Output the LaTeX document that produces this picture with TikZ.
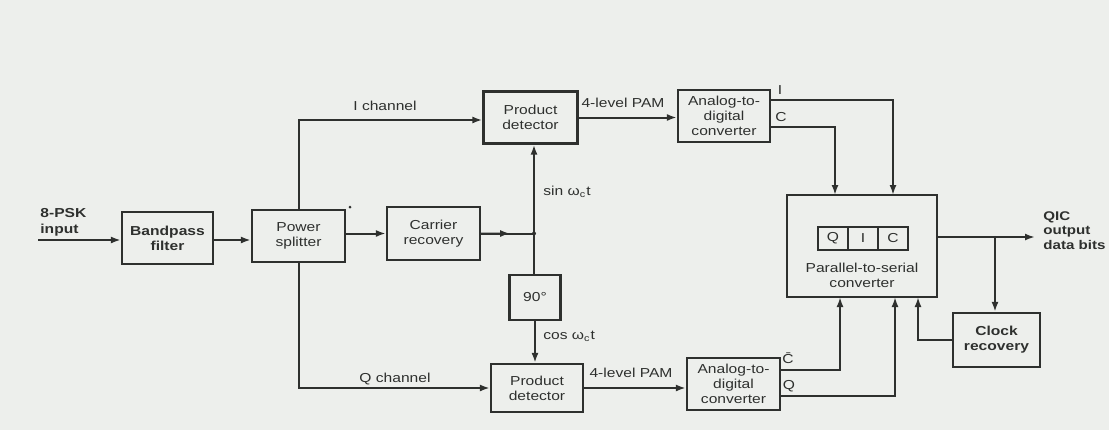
\documentclass[tikz,border=0pt]{standalone}
\usepackage{fontspec}
\newfontfamily\lbl{Liberation Sans}[FakeStretch=1.2]
\usetikzlibrary{arrows.meta,calc}
\definecolor{paper}{HTML}{EDEFEC}
\definecolor{ink}{HTML}{2E302E}
\tikzset{
  blk/.style={draw=ink,line width=1.1pt,fill=none,inner sep=1pt,align=center,
    font=\lbl\fontsize{6.5}{7.6}\selectfont,text=ink},
  wire/.style={draw=ink,line width=1pt},
  arr/.style={wire,-{Latex[length=5pt,width=3.5pt]}},
  txt/.style={font=\lbl\fontsize{6.5}{7.6}\selectfont,text=ink,inner sep=0pt,align=center},
  cell/.style={draw=ink,line width=1pt,minimum width=15pt,minimum height=11.5pt,inner sep=0pt,
    font=\lbl\fontsize{6.5}{7.6}\selectfont,text=ink}
}
\begin{document}
\begin{tikzpicture}[x=0.5pt,y=-0.5pt]
\fill[paper] (0,0) rectangle (1109,430);
\useasboundingbox (0,0) rectangle (1109,430);

% blocks
\node[blk,minimum width=45.5pt,minimum height=26pt,font=\lbl\bfseries\fontsize{6.5}{7.6}\selectfont] (bpf) at (167.5,238) {Bandpass\\filter};
\node[blk,minimum width=46.5pt,minimum height=26pt] (ps) at (298.5,236) {Power\\splitter};
\node[blk,minimum width=46.5pt,minimum height=26.5pt] (cr) at (433.5,233.5) {Carrier\\recovery};
\node[blk,minimum width=47pt,minimum height=26pt] (pd1) at (530.5,117.5) {Product\\detector};
\node[blk,minimum width=25.5pt,minimum height=22.5pt] (ph) at (535,297.5) {90°};
\node[blk,minimum width=46pt,minimum height=24pt] (pd2) at (537,388) {Product\\detector};
\node[blk,minimum width=46pt,minimum height=26pt] (adc1) at (724,116) {Analog-to-\\digital\\converter};
\node[blk,minimum width=46.5pt,minimum height=26pt] (adc2) at (733.5,384) {Analog-to-\\digital\\converter};
\node[blk,minimum width=75pt,minimum height=51pt] (psc) at (862,246) {};
\node[txt] (psct) at (862,275) {Parallel-to-serial\\converter};
\node[cell] (cq) at (833,238.5) {Q};
\node[cell] (ci) at (863,238.5) {I};
\node[cell] (cc) at (893,238.5) {C};
\node[blk,minimum width=43.5pt,minimum height=27pt,font=\lbl\bfseries\fontsize{6.5}{7.6}\selectfont] (clk) at (996.5,340) {Clock\\recovery};

% points on the wires
\coordinate (in) at (38,240);
\coordinate (j) at (534,233.5);
\coordinate (out) at (1035,237);
\coordinate (br) at (995,237);
\coordinate (iup) at (298.5,120);
\coordinate (qdn) at (298.5,388);

% input chain
\node[txt,anchor=north west,align=left,font=\lbl\bfseries\fontsize{6.5}{7.8}\selectfont] (inl) at (40,208) {8-PSK\\input};
\draw[arr] (in) -- (bpf.west |- in);
\draw[arr] (bpf.east |- 0,240) -- (ps.west |- 0,240);
\draw[arr] (ps.east |- cr.west) -- (cr.west);
\fill[ink] (350,207) circle (1.5);

% carrier to detectors
\draw[wire] (cr.east) -- (j);
\draw[arr] (cr.east) -- ($(cr.east)!0.55!(j)$);
\fill[ink] (j) circle (2);
\draw[arr] (j) -- (j |- pd1.south);
\draw[wire] (j) -- (j |- ph.north);
\draw[arr] (ph.south) -- (ph.south |- pd2.north);
\node[txt,anchor=west] (sinl) at (543,192) {sin ω\textsubscript{c}t};
\node[txt,anchor=west] (cosl) at (543,336) {cos ω\textsubscript{c}t};

% I and Q channels
\draw[arr] (ps.north) -- (iup) -- (pd1.west |- iup);
\draw[arr] (ps.south) -- (qdn) -- (pd2.west |- qdn);
\node[txt] (ichl) at (385,106) {I channel};
\node[txt] (qchl) at (395,379) {Q channel};

% detectors to converters
\draw[arr] (pd1.east) -- (adc1.west |- pd1.east);
\draw[arr] (pd2.east) -- (adc2.west |- pd2.east);
\node[txt] (pam1) at (623,103) {4-level PAM};
\node[txt] (pam2) at (631,373) {4-level PAM};

% bits into the parallel-to-serial converter
\draw[arr] (adc1.east |- 0,100) -- (893,100) -- (893,195);
\draw[arr] (adc1.east |- 0,127) -- (835,127) -- (835,195);
\node[txt] (il) at (780,90) {I};
\node[txt] (cl) at (781,117) {C};
\draw[arr] (adc2.east |- 0,370) -- (840,370) -- (840,297);
\draw[arr] (adc2.east |- 0,396) -- (895,396) -- (895,297);
\node[txt] (cbl) at (788,358) {\={C}};
\node[txt] (ql) at (789,386) {Q};

% output and clock recovery loop
\draw[arr] (psc.east |- out) -- (out);
\draw[arr] (br) -- (br |- clk.north);
\fill[ink] (br) circle (1.2);
\draw[arr] (clk.west) -- (918,340) -- (918,297);
\node[txt,anchor=north west,align=left,font=\lbl\bfseries\fontsize{6.3}{7.2}\selectfont] (outl) at (1043,211) {QIC\\output\\data bits};
\end{tikzpicture}
\end{document}
